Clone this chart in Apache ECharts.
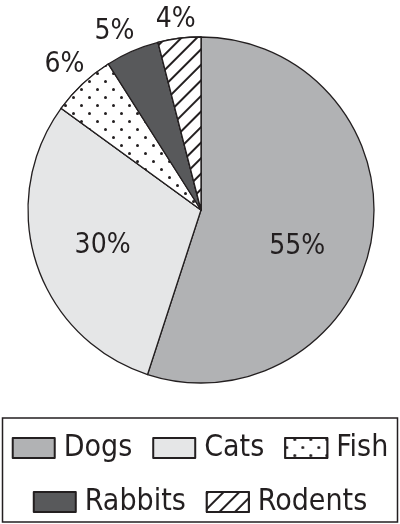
<!DOCTYPE html>
<html><head><meta charset="utf-8">
<script src="https://cdn.jsdelivr.net/npm/echarts@6/dist/echarts.min.js"></script>
<style>html,body{margin:0;padding:0;background:#fff}#c{width:400px;height:524px}</style>
</head><body><div id="c"></div>
<script>
// ---- data ----
const categories = ['Dogs', 'Cats', 'Fish', 'Rabbits', 'Rodents'];
const shares = [55, 30, 6, 5, 4];
const legendRow1 = ['Dogs', 'Cats', 'Fish'];
const legendRow2 = ['Rabbits', 'Rodents'];
const innerLabelled = ['Dogs', 'Cats'];
const outerLabelled = ['Fish', 'Rabbits', 'Rodents'];

// ---- styles ----
const FONT = '"DejaVu Sans Condensed","Liberation Sans Narrow","Roboto",sans-serif';
const INK = '#231f20';
const sliceStyle = {
  Dogs: { color: '#b1b2b4' },
  Cats: { color: '#e5e6e7' },
  Fish: { color: '#ffffff', decal: { symbol: 'circle', symbolSize: 1, color: INK, backgroundColor: '#ffffff',
          dashArrayX: [[3, 13], [0, 8, 3, 5]], dashArrayY: [3, 5] } },
  Rabbits: { color: '#58595b' },
  Rodents: { color: '#ffffff', decal: { symbol: 'rect', symbolSize: 1, color: INK, backgroundColor: '#ffffff',
          dashArrayX: [1, 0], dashArrayY: [1.5, 8.5], rotation: -Math.PI / 4 } }
};
const CENTER = [201, 210];
const R = 173;
// small label nudges (style only)
const innerNudge = [{ dx: -7, dy: 20 }, { dx: 1, dy: 3 }];
const outerNudge = { 2: { dx: 2, dy: 2 }, 3: { dx: -6, dy: 8 }, 4: { dy: 11 } };

const mainData = categories.map((n, i) => ({ name: n, value: shares[i], itemStyle: sliceStyle[n] }));
const labelData = (show) => categories.map((n, i) => ({ name: n, value: shares[i], label: { show: show.includes(n) } }));

const labelSeriesBase = {
  type: 'pie', center: CENTER, startAngle: 90, clockwise: true, silent: true,
  avoidLabelOverlap: false, animation: false,
  itemStyle: { color: 'transparent', borderWidth: 0 },
  labelLine: { show: false },
  emphasis: { disabled: true },
  label: { position: 'inside', formatter: '{c}%', color: INK, fontFamily: FONT, fontSize: 28 }
};

const legendBase = {
  left: 'center', orient: 'horizontal', icon: 'rect', width: 396,
  itemWidth: 42, itemHeight: 20, itemGap: 20, selectedMode: false,
  itemStyle: { borderColor: INK, borderWidth: 2 },
  textStyle: { color: INK, fontFamily: FONT, fontSize: 30, padding: [0, 0, 0, 4] }
};

const chart = echarts.init(document.getElementById('c'), null, { renderer: 'canvas' });
chart.setOption({
  backgroundColor: '#ffffff',
  animation: false,
  legend: [
    Object.assign({}, legendBase, { data: legendRow1, top: 428 }),
    Object.assign({}, legendBase, { data: legendRow2, top: 482 })
  ],
  graphic: [{
    type: 'rect', shape: { x: 2.5, y: 418, width: 395, height: 104 },
    style: { fill: 'none', stroke: INK, lineWidth: 1.5 }, silent: true
  }],
  series: [
    {
      name: 'pets', type: 'pie', center: CENTER, radius: R, startAngle: 90, clockwise: true,
      animation: false, silent: true,
      itemStyle: { borderColor: INK, borderWidth: 1.3 },
      label: { show: false }, labelLine: { show: false },
      emphasis: { disabled: true },
      data: mainData
    },
    Object.assign({}, labelSeriesBase, {
      name: 'inner labels', radius: [0, 2 * 101.5],
      labelLayout: (p) => innerNudge[p.dataIndex] || {},
      data: labelData(innerLabelled)
    }),
    Object.assign({}, labelSeriesBase, {
      name: 'outer labels', radius: [180, 219],
      labelLayout: (p) => outerNudge[p.dataIndex] || {},
      data: labelData(outerLabelled)
    })
  ]
});
</script>
</body></html>
